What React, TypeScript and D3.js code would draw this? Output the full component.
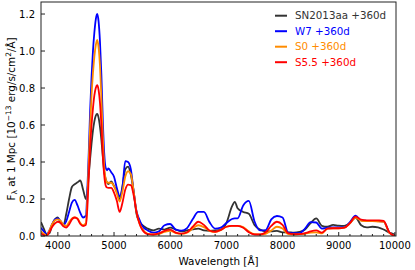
import React from 'react'
import * as d3 from 'd3'

// wavelength grid [Å]
const wave = [
  3700, 3750, 3800, 3850, 3900, 3950, 4000, 4050, 4100, 4150, 4200, 4250, 4300, 4350, 4400, 4450, 4500,
  4525, 4550, 4575, 4600, 4625, 4650, 4675, 4700, 4725, 4750, 4775, 4800, 4825, 4850, 4875, 4900,
  4950, 5000, 5050, 5100, 5150, 5200, 5250, 5300, 5350, 5400, 5450, 5500,
  5600, 5700, 5800, 5900, 6000, 6100, 6200, 6300, 6400, 6500, 6600, 6700, 6800, 6900, 7000, 7100, 7150,
  7200, 7300, 7400, 7500, 7600, 7700, 7800, 7900, 8000, 8100, 8200, 8300, 8400, 8500, 8600, 8700, 8800,
  8900, 9000, 9100, 9200, 9300, 9400, 9500, 9600, 9700, 9800, 9900, 10000,
]

// F_lambda at 1 Mpc, units of 1e-13 erg/s/cm2/Å
const sn2013aa = [
  0.075, 0.04, 0.01, 0.015, 0.06, 0.09, 0.1, 0.07, 0.06, 0.12, 0.2, 0.265, 0.28, 0.29, 0.3, 0.25, 0.2,
  0.24, 0.33, 0.42, 0.5, 0.57, 0.62, 0.65, 0.66, 0.64, 0.59, 0.52, 0.43, 0.35, 0.31, 0.29, 0.28,
  0.295, 0.27, 0.24, 0.195, 0.27, 0.36, 0.375, 0.33, 0.24, 0.12, 0.08, 0.06,
  0.04, 0.03, 0.04, 0.035, 0.045, 0.035, 0.025, 0.03, 0.036, 0.04, 0.03, 0.028, 0.03, 0.035, 0.07, 0.16, 0.185,
  0.15, 0.13, 0.12, 0.06, 0.035, 0.025, 0.025, 0.028, 0.02, 0.02, 0.018, 0.022, 0.035, 0.07, 0.095, 0.055, 0.05,
  0.06, 0.056, 0.055, 0.07, 0.1, 0.058, 0.047, 0.05, 0.047, 0.035, 0.018, 0.008,
]
const w7 = [
  0.045, 0.025, 0.01, 0.03, 0.065, 0.09, 0.095, 0.08, 0.06, 0.08, 0.13, 0.18, 0.195, 0.165, 0.125, 0.1, 0.11,
  0.25, 0.45, 0.68, 0.86, 1.0, 1.1, 1.17, 1.2, 1.16, 1.05, 0.87, 0.63, 0.45, 0.37, 0.355, 0.365,
  0.345, 0.32, 0.26, 0.215, 0.26, 0.405, 0.4, 0.36, 0.24, 0.135, 0.09, 0.055,
  0.03, 0.018, 0.025, 0.058, 0.065, 0.034, 0.029, 0.043, 0.09, 0.13, 0.13, 0.075, 0.04, 0.045, 0.07, 0.092, 0.095,
  0.095, 0.165, 0.19, 0.08, 0.03, 0.032, 0.09, 0.108, 0.1, 0.018, 0.015, 0.015, 0.04, 0.075, 0.073, 0.04, 0.045,
  0.047, 0.047, 0.047, 0.075, 0.11, 0.085, 0.082, 0.08, 0.08, 0.078, 0.02, 0.0,
]
const s0 = [
  0.025, 0.012, 0.005, 0.03, 0.065, 0.085, 0.09, 0.082, 0.06, 0.055, 0.075, 0.095, 0.1, 0.095, 0.07, 0.058, 0.07,
  0.2, 0.4, 0.6, 0.76, 0.88, 0.97, 1.03, 1.06, 1.02, 0.92, 0.75, 0.54, 0.38, 0.31, 0.29, 0.288,
  0.288, 0.27, 0.23, 0.186, 0.24, 0.32, 0.35, 0.335, 0.24, 0.13, 0.07, 0.04,
  0.012, 0.008, 0.012, 0.022, 0.028, 0.016, 0.012, 0.018, 0.04, 0.058, 0.048, 0.028, 0.022, 0.032, 0.05, 0.055, 0.055,
  0.055, 0.048, 0.025, 0.01, 0.008, 0.012, 0.03, 0.05, 0.04, 0.01, 0.008, 0.01, 0.012, 0.018, 0.02, 0.014, 0.04,
  0.042, 0.042, 0.045, 0.068, 0.1, 0.082, 0.08, 0.08, 0.078, 0.076, 0.018, 0.0,
]
const s55 = [
  0.014, 0.005, 0.0, 0.022, 0.05, 0.068, 0.077, 0.07, 0.052, 0.046, 0.062, 0.09, 0.1, 0.092, 0.065, 0.054, 0.06,
  0.15, 0.32, 0.48, 0.6, 0.69, 0.76, 0.8, 0.815, 0.79, 0.72, 0.6, 0.44, 0.33, 0.275, 0.262, 0.26,
  0.26, 0.235, 0.19, 0.13, 0.18, 0.25, 0.278, 0.275, 0.22, 0.13, 0.07, 0.035,
  0.01, 0.008, 0.014, 0.028, 0.034, 0.018, 0.013, 0.02, 0.05, 0.077, 0.06, 0.03, 0.023, 0.033, 0.05, 0.055, 0.055,
  0.055, 0.045, 0.02, 0.008, 0.008, 0.02, 0.055, 0.077, 0.06, 0.015, 0.01, 0.01, 0.015, 0.025, 0.03, 0.018, 0.04,
  0.042, 0.042, 0.045, 0.07, 0.105, 0.088, 0.085, 0.085, 0.084, 0.082, 0.02, 0.0,
]

const seriesNames = ['SN2013aa +360d', 'W7 +360d', 'S0 +360d', 'S5.5 +360d']
const seriesColors = ['#333333', '#0000ff', '#ff8c00', '#ff0000']
const seriesData = [sn2013aa, w7, s0, s55]

const xTicks = [4000, 5000, 6000, 7000, 8000, 9000, 10000]
const yTicks = [0, 0.2, 0.4, 0.6, 0.8, 1.0, 1.2]

const W = 415
const H = 270
const left = 41
const right = 396
const top = 2
const bottom = 236
const font = 'DejaVu Sans'

export default function App() {
  const x = d3.scaleLinear().domain([3700, 10020]).range([left, right])
  const y = d3.scaleLinear().domain([0, 1.265]).range([bottom, top])
  const minor = d3.range(3800, 10001, 200).filter(v => v % 1000 !== 0)

  const line = d3.line<number>()
    .x((d, i) => x(wave[i]))
    .y(d => y(d))
    .curve(d3.curveMonotoneX)

  return (
    <svg width={W} height={H} style={{position: 'absolute', left: 0, top: 0, fontFamily: font}}>
      <rect width={W} height={H} fill="white" />
      <defs>
        <clipPath id="plot">
          <rect x={left} y={top} width={right - left} height={bottom - top} />
        </clipPath>
      </defs>

      <g clipPath="url(#plot)" fill="none" strokeWidth={1.8} strokeLinejoin="round">
        {seriesData.map((s, i) => (
          <path key={i} d={line(s) || ''} stroke={seriesColors[i]} />
        ))}
      </g>

      {/* frame */}
      <rect x={left} y={top} width={right - left} height={bottom - top} fill="none" stroke="#222" strokeWidth={1} />

      {/* x ticks */}
      {xTicks.map(t => (
        <g key={t}>
          <line x1={x(t)} x2={x(t)} y1={bottom} y2={bottom - 4} stroke="#222" />
          <text x={x(t)} y={248.5} textAnchor="middle" fontSize={10}>{t}</text>
        </g>
      ))}
      {minor.map(t => (
        <line key={t} x1={x(t)} x2={x(t)} y1={bottom} y2={bottom - 2} stroke="#222" />
      ))}

      {/* y ticks */}
      {yTicks.map(t => (
        <g key={t}>
          <line x1={left} x2={left + 4} y1={y(t)} y2={y(t)} stroke="#222" />
          <text x={35} y={y(t) + 3.6} textAnchor="end" fontSize={10}>{t.toFixed(1)}</text>
        </g>
      ))}

      <text x={(left + right) / 2} y={265} textAnchor="middle" fontSize={10.4}>Wavelength [Å]</text>
      <text transform={`translate(14.5,${(top + bottom) / 2}) rotate(-90)`} textAnchor="middle" fontSize={10.4}>
        F<tspan fontSize={7.5} dy={2}>λ</tspan>
        <tspan dy={-2}> at 1 Mpc [10</tspan>
        <tspan fontSize={7.5} dy={-4}>−13</tspan>
        <tspan dy={4}> erg/s/cm</tspan>
        <tspan fontSize={7.5} dy={-4}>2</tspan>
        <tspan dy={4}>/Å]</tspan>
      </text>

      {/* legend */}
      {seriesNames.map((n, i) => (
        <g key={n} transform={`translate(0,${15.7 + i * 15.5})`}>
          <line x1={275} x2={287} y1={0} y2={0} stroke={seriesColors[i]} strokeWidth={2} />
          <text x={295} y={3.6} fontSize={10.3} fill={seriesColors[i]}>{n}</text>
        </g>
      ))}
    </svg>
  )
}
